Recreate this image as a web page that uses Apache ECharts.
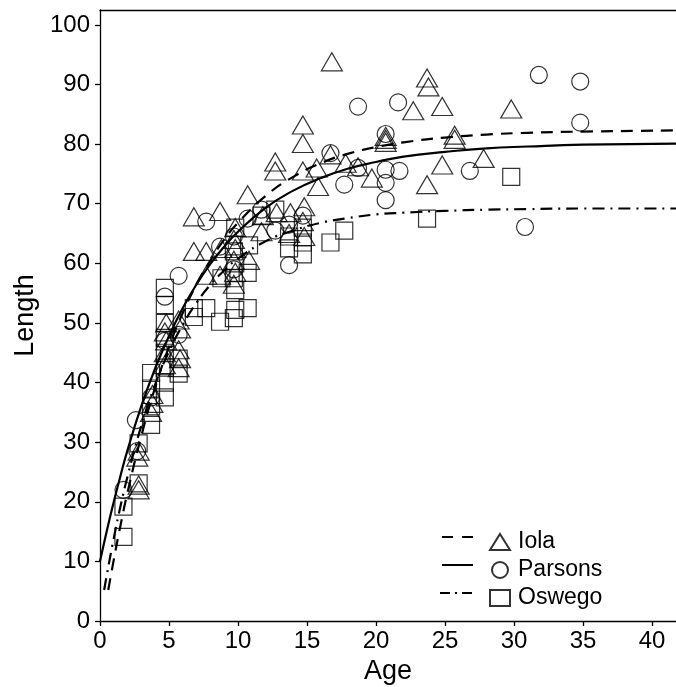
<!DOCTYPE html>
<html>
<head>
<meta charset="utf-8">
<script src="https://cdn.jsdelivr.net/npm/echarts@6/dist/echarts.min.js"></script>
<style>
html,body{margin:0;padding:0;background:#fff;}
#chart{width:676px;height:687px;}
</style>
</head>
<body>
<div id="chart"></div>
<script>
// ---- data ----
var xTicks = [0, 5, 10, 15, 20, 25, 30, 35, 40];
var yTicks = [0, 10, 20, 30, 40, 50, 60, 70, 80, 90, 100];

var iolaPoints = [[2.8,22.0],[2.8,22.8],[2.7,27.5],[2.8,28.5],[3.7,35.0],[3.8,36.5],[3.8,38.0],[4.7,43.0],[4.7,45.0],[4.8,47.0],[4.7,48.5],[4.8,50.0],[5.7,42.5],[5.8,44.0],[5.7,45.5],[5.8,49.0],[5.7,50.5],[6.8,62.0],[6.8,67.8],[7.7,62.0],[7.7,58.0],[8.7,68.7],[8.7,58.0],[8.8,62.5],[9.7,56.5],[9.8,58.5],[9.7,60.5],[9.8,62.5],[9.7,64.0],[9.8,66.0],[10.7,71.5],[10.8,60.5],[11.7,65.3],[11.8,68.0],[12.7,77.0],[12.7,75.5],[12.8,68.5],[13.8,68.5],[13.7,65.0],[14.7,83.2],[14.7,80.1],[14.7,75.5],[14.8,69.5],[14.7,67.0],[14.8,64.5],[15.7,76.0],[15.8,72.9],[16.7,78.2],[16.8,93.8],[17.8,76.8],[18.7,76.2],[19.7,74.3],[20.7,80.3],[20.7,80.8],[20.7,81.3],[22.7,85.6],[23.7,91.1],[23.8,89.6],[23.7,73.2],[24.8,86.3],[24.8,76.5],[25.7,80.8],[25.7,81.5],[27.8,77.6],[29.8,85.9]];

var parsonsPoints = [[1.7,22.0],[2.7,28.5],[2.6,33.7],[3.7,37.5],[4.7,47.0],[4.7,54.4],[5.7,57.9],[5.7,48.0],[7.7,67.0],[8.7,62.8],[9.7,64.5],[9.7,59.0],[10.7,67.5],[11.7,69.0],[12.7,65.5],[13.7,59.7],[13.7,66.5],[14.7,68.0],[16.7,78.5],[17.7,73.2],[18.7,86.3],[18.7,76.0],[20.7,81.7],[20.7,75.7],[20.7,73.5],[20.7,70.6],[21.6,87.0],[21.7,75.5],[26.8,75.5],[30.8,66.1],[31.8,91.6],[34.8,90.5],[34.8,83.6]];

var oswegoPoints = [[1.7,14.1],[1.7,19.2],[2.8,23.1],[2.8,29.8],[3.7,32.9],[3.7,36.0],[3.7,39.0],[3.7,41.6],[4.7,37.5],[4.7,40.0],[4.7,42.5],[4.7,45.0],[4.7,47.5],[4.7,50.0],[4.7,53.0],[4.7,55.9],[5.7,41.5],[5.7,44.0],[6.8,51.0],[6.8,52.5],[7.7,52.5],[8.7,50.2],[8.8,57.5],[9.8,52.2],[9.7,50.8],[9.8,55.5],[9.7,57.5],[9.8,60.0],[9.7,62.0],[9.8,66.0],[10.7,58.4],[10.7,52.5],[10.8,63.0],[11.7,68.0],[12.7,69.0],[13.7,62.5],[13.7,64.5],[14.7,61.5],[14.7,63.5],[14.7,66.0],[16.7,63.5],[17.7,65.5],[23.7,67.5],[29.8,74.5]];

// fitted curves, points
var iolaCurve = [[0.6,5.2],[1,10.3],[1.5,16.2],[2,21.6],[3,31.1],[4,39.2],[5,46.0],[6,51.7],[7,56.5],[8,60.5],[9,64.0],[10,66.8],[12,71.3],[14,74.5],[16,76.8],[18,78.4],[20,79.5],[22,80.3],[25,81.1],[28,81.6],[31,81.9],[35,82.1],[41.74,82.3]];
var parsonsCurve = [[0,10.0],[0.5,15.2],[1,20.0],[1.5,24.5],[2,28.7],[3,36.1],[4,42.4],[5,47.8],[6,52.5],[7,56.5],[8,59.9],[9,62.8],[10,65.3],[12,69.3],[14,72.2],[16,74.3],[18,75.9],[20,77.0],[22,77.9],[25,78.7],[28,79.3],[31,79.6],[35,79.9],[41.74,80.1]];
var oswegoCurve = [[0.3,5.2],[0.5,7.8],[1,13.9],[1.5,19.4],[2,24.3],[3,32.8],[4,39.7],[5,45.2],[6,49.7],[7,53.4],[8,56.4],[9,58.8],[10,60.8],[12,63.7],[14,65.5],[16,66.8],[18,67.6],[20,68.2],[22,68.5],[25,68.8],[28,69.0],[31,69.1],[35,69.2],[41.74,69.2]];

var FONT = 'Liberation Sans, Arial, sans-serif';
var chart = echarts.init(document.getElementById('chart'), null, {renderer: 'canvas'});

function scatter(name, data, symbol, size) {
  return {
    name: name, type: 'scatter', data: data, symbol: symbol, symbolSize: size,
    itemStyle: {color: 'rgba(0,0,0,0)', borderColor: '#000', borderWidth: 1.2},
    emphasis: {disabled: true}, z: 2
  };
}
function curve(name, data, type) {
  return {
    name: name + ' fit', type: 'line', data: data, smooth: true, showSymbol: false,
    lineStyle: {color: '#000', width: 2.2, type: type}, emphasis: {disabled: true}, z: 3
  };
}

var option = {
  animation: false,
  backgroundColor: '#fff',
  grid: {left: 100, right: 0, top: 10, bottom: 66, outerBoundsMode: 'none'},
  xAxis: [{
    type: 'value', min: 0, max: 41.74,
    name: 'Age', nameLocation: 'middle', nameGap: 33,
    nameTextStyle: {fontFamily: FONT, fontSize: 27, color: '#000'},
    axisLine: {show: true, lineStyle: {color: '#000', width: 1.3}},
    axisTick: {show: true, length: 5, lineStyle: {color: '#000', width: 1.3}, customValues: xTicks},
    axisLabel: {fontFamily: FONT, fontSize: 24, color: '#000', margin: 8, customValues: xTicks},
    splitLine: {show: false}
  }, {
    type: 'value', min: 0, max: 41.74, position: 'top',
    axisLine: {show: true, lineStyle: {color: '#000', width: 1.3}},
    axisTick: {show: false}, axisLabel: {show: false}, splitLine: {show: false}
  }],
  yAxis: {
    type: 'value', min: 0, max: 102.5,
    name: 'Length', nameLocation: 'middle', nameGap: 57,
    nameTextStyle: {fontFamily: FONT, fontSize: 27, color: '#000'},
    axisLine: {show: true, lineStyle: {color: '#000', width: 1.3}},
    axisTick: {show: true, length: 5, lineStyle: {color: '#000', width: 1.3}, customValues: yTicks},
    axisLabel: {fontFamily: FONT, fontSize: 24, color: '#000', margin: 10, customValues: yTicks},
    splitLine: {show: false}
  },
  legend: {
    orient: 'vertical', left: 484, top: 523, itemGap: 0,
    itemWidth: 20, itemHeight: 16, selectedMode: false,
    data: ['Iola', 'Parsons', 'Oswego'],
    textStyle: {fontFamily: FONT, fontSize: 23, color: '#000', lineHeight: 28, padding: [0,0,0,3]}
  },
  graphic: [
    {type: 'line', shape: {x1: 442, y1: 537, x2: 473, y2: 537}, style: {stroke: '#000', lineWidth: 2, lineDash: [11, 9]}},
    {type: 'line', shape: {x1: 442, y1: 565, x2: 473, y2: 565}, style: {stroke: '#000', lineWidth: 2}},
    {type: 'line', shape: {x1: 440, y1: 593, x2: 474, y2: 593}, style: {stroke: '#000', lineWidth: 2, lineDash: [10, 5, 2, 5]}}
  ],
  series: [
    scatter('Iola', iolaPoints, 'triangle', [21, 18]),
    scatter('Parsons', parsonsPoints, 'circle', 17),
    scatter('Oswego', oswegoPoints, 'rect', 17),
    curve('Iola', iolaCurve, [12, 8]),
    curve('Parsons', parsonsCurve, 'solid'),
    curve('Oswego', oswegoCurve, [12, 6, 2, 6])
  ]
};
chart.setOption(option);
</script>
</body>
</html>
